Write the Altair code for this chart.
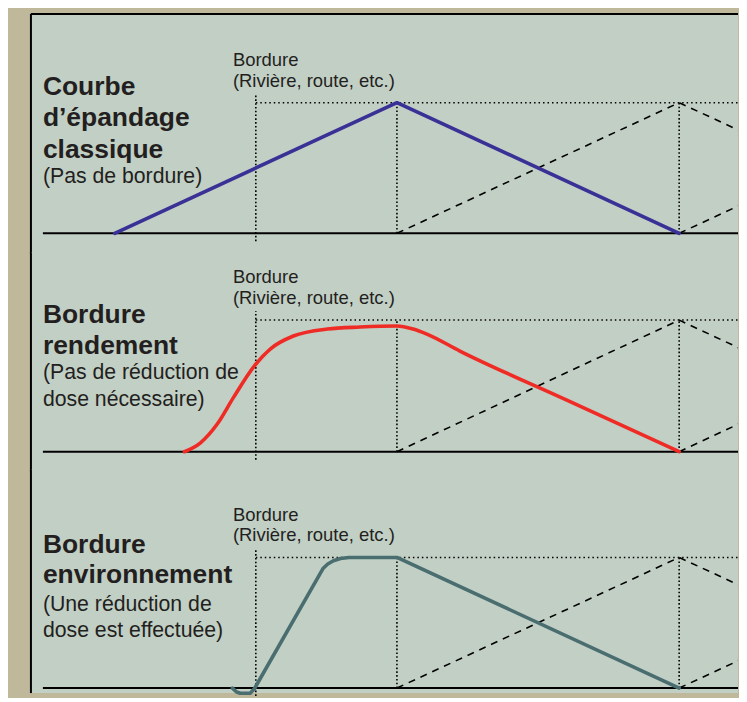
import altair as alt
import pandas as pd

# ---------------- data (x: distance in tramline spacings, 0 = last tramline; y: relative dose) ----------------
tramline_x = [0, 1]
border_x = -0.5
x_view_min = -1.2968
x_view_max = 1.2085
baseline_start_x = -1.2544

# neighbouring passes (dashed triangles)
pass_ids = ["p1", "p1", "p1", "p2", "p2", "p2"]
pass_x = [0, 1, 2, 1, 2, 3]
pass_y = [0, 1, 0, 0, 1, 0]

# panel 1 : classic spreading (no border)
classic_x = [-1.0, 0.0, 1.0]
classic_y = [0.0, 1.0, 0.0]

# panel 2 : yield border
yield_x = [-0.753, -0.696, -0.636, -0.580, -0.505, -0.449, -0.367, -0.247, -0.131, 0.0, 0.057, 0.106, 0.223, 0.6, 1.0]
yield_y = [0.0, 0.068, 0.212, 0.409, 0.652, 0.780, 0.879, 0.932, 0.947, 0.955, 0.932, 0.894, 0.765, 0.394, 0.0]

# panel 3 : environment border
env_x = [-0.583, -0.568, -0.555, -0.520, -0.505, -0.262, -0.245, -0.225, -0.200, -0.170, 0.0, 1.0]
env_y = [0.0, -0.030, -0.040, -0.040, -0.005, 0.915, 0.950, 0.975, 0.992, 1.0, 1.0, 0.0]

titles_bold = [["Courbe", "d’épandage", "classique"], ["Bordure", "rendement"], ["Bordure", "environnement"]]
titles_reg = [["(Pas de bordure)"], ["(Pas de réduction de", "dose nécessaire)"], ["(Une réduction de", "dose est effectuée)"]]
border_label = "Bordure\n(Rivière, route, etc.)"

colors = ["#3a3197", "#ee2c25", "#4a6d70"]

# ---------------- layout ----------------
W = 709
PAD_L, PAD_T = 22, 4
FONT = "Liberation Sans"
TXT = "#231f20"
PANEL_FILL = "#c2cfc5"
xs = alt.Scale(domain=[x_view_min, x_view_max], nice=False, zero=False)


def panel(cx, cy, color, base_px, top_px, bottom_px, unit_px, bold, reg, bold_y, bold_lh, reg_y, reg_lh, interp, first=False):
    height = bottom_px - top_px
    ys = alt.Scale(domain=[-(bottom_px - base_px) / unit_px, (base_px - top_px) / unit_px], nice=False, zero=False)
    X = lambda f: alt.X(f, scale=xs, axis=None)
    Y = lambda f: alt.Y(f, scale=ys, axis=None)
    one = pd.DataFrame({"a": [0]})

    fill = alt.Chart(one).mark_rect(color=PANEL_FILL).encode(
        x=alt.value(0), x2=alt.value(W), y=alt.value(0 if first else -1), y2=alt.value(height + 1))
    vr = pd.DataFrame({"x": [border_x] + tramline_x, "y": [-0.06, 0, 0], "y2": [1.07, 1, 1]})
    vrules = alt.Chart(vr).mark_rule(color="black", strokeWidth=1.6, strokeDash=[1.6, 2.2]).encode(
        x=X("x:Q"), y=Y("y:Q"), y2="y2:Q")
    hr = pd.DataFrame({"x": [border_x], "x2": [x_view_max], "y": [1]})
    hrule = alt.Chart(hr).mark_rule(color="black", strokeWidth=1.5, strokeDash=[1.5, 3]).encode(
        x=X("x:Q"), x2="x2:Q", y=Y("y:Q"))
    pdf = pd.DataFrame({"pass": pass_ids, "x": pass_x, "y": pass_y})
    passes = alt.Chart(pdf).mark_line(color="black", strokeWidth=1.6, strokeDash=[7, 6], clip=True).encode(
        x=X("x:Q"), y=Y("y:Q"), detail="pass:N")
    bl = pd.DataFrame({"x": [baseline_start_x], "x2": [x_view_max], "y": [0]})
    base = alt.Chart(bl).mark_rule(color="black", strokeWidth=2).encode(x=X("x:Q"), x2="x2:Q", y=Y("y:Q"))
    cdf = pd.DataFrame({"x": cx, "y": cy, "o": list(range(len(cx)))})
    curve = alt.Chart(cdf).mark_line(color=color, strokeWidth=3.6, interpolate=interp,
                                     strokeCap="round", strokeJoin="round").encode(
        x=X("x:Q"), y=Y("y:Q"), order="o:Q")
    ldf = pd.DataFrame({"x": [border_x], "y": [1], "t": [border_label]})
    label = alt.Chart(ldf).mark_text(font=FONT, fontSize=18.5, color=TXT, align="left", baseline="alphabetic",
                                     lineBreak="\n", lineHeight=21, dx=-23, dy=-37).encode(
        x=X("x:Q"), y=Y("y:Q"), text="t:N")
    tb = alt.Chart(one).mark_text(font=FONT, fontSize=26.5, fontWeight="bold", color=TXT, align="left",
                                  baseline="alphabetic", lineBreak="\n", lineHeight=bold_lh).encode(
        x=alt.value(12), y=alt.value(bold_y), text=alt.value("\n".join(bold)))
    tr = alt.Chart(one).mark_text(font=FONT, fontSize=21.3, color=TXT, align="left",
                                  baseline="alphabetic", lineBreak="\n", lineHeight=reg_lh).encode(
        x=alt.value(12), y=alt.value(reg_y), text=alt.value("\n".join(reg)))
    left = alt.Chart(one).mark_rule(color="black", strokeWidth=2).encode(
        x=alt.value(0), y=alt.value(0 if first else -1), y2=alt.value(height + 1))
    layers = [fill, vrules, hrule, passes, base, curve, label, tb, tr, left]
    if first:
        layers.append(alt.Chart(one).mark_rule(color="black", strokeWidth=2).encode(
            x=alt.value(0), x2=alt.value(W), y=alt.value(0)))
    return alt.layer(*layers).properties(width=W, height=height)


p1 = panel(classic_x, classic_y, colors[0], 232, 12, 252, 131, titles_bold[0], titles_reg[0], 81, 31.5, 170, 26, "linear", True)
p2 = panel(yield_x, yield_y, colors[1], 451, 252, 470, 132, titles_bold[1], titles_reg[1], 70, 31, 126, 27, "monotone")
p3 = panel(env_x, env_y, colors[2], 688, 470, 692, 131, titles_bold[2], titles_reg[2], 83, 30, 141, 25.5, "linear")

chart = alt.vconcat(p1, p2, p3, spacing=0, bounds="flush").resolve_scale(y="independent").properties(
    padding={"left": PAD_L, "top": PAD_T, "right": 0, "bottom": 0},
    background="#c0b89a",
).configure_view(fill=PANEL_FILL, stroke="transparent", strokeWidth=0)

chart.save("out.html", embed_options={"renderer": "svg", "actions": False})
